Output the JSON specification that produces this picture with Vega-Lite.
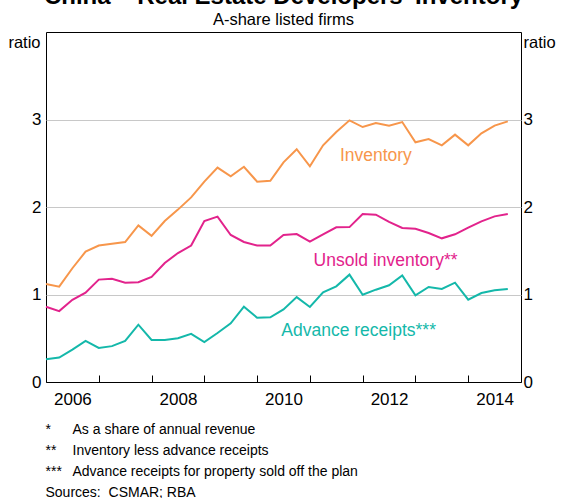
{
  "$schema": "https://vega.github.io/schema/vega-lite/v6.json",
  "width": 475,
  "height": 350,
  "autosize": {"type": "none"},
  "padding": {"left": 46, "top": 32, "right": 40, "bottom": 116},
  "background": "white",
  "config": {
    "font": "Liberation Sans",
    "view": {"stroke": "#000", "strokeWidth": 1}
  },
  "title": {
    "text": "China – Real Estate Developers' Inventory",
    "subtitle": "A-share listed firms",
    "fontSize": 24,
    "fontWeight": "bold",
    "color": "#000",
    "subtitleFontSize": 16.5,
    "subtitleColor": "#000",
    "subtitlePadding": 3,
    "anchor": "middle",
    "offset": 4
  },
  "datasets": {
    "series": [
      {"t": 2006.00, "inventory": 1.12, "unsold": 0.86, "advance": 0.26},
      {"t": 2006.25, "inventory": 1.09, "unsold": 0.81, "advance": 0.28},
      {"t": 2006.50, "inventory": 1.30, "unsold": 0.94, "advance": 0.37},
      {"t": 2006.75, "inventory": 1.49, "unsold": 1.02, "advance": 0.47},
      {"t": 2007.00, "inventory": 1.56, "unsold": 1.17, "advance": 0.39},
      {"t": 2007.25, "inventory": 1.58, "unsold": 1.18, "advance": 0.41},
      {"t": 2007.50, "inventory": 1.60, "unsold": 1.135, "advance": 0.47},
      {"t": 2007.75, "inventory": 1.79, "unsold": 1.14, "advance": 0.655},
      {"t": 2008.00, "inventory": 1.67, "unsold": 1.20, "advance": 0.48},
      {"t": 2008.25, "inventory": 1.84, "unsold": 1.36, "advance": 0.48},
      {"t": 2008.50, "inventory": 1.97, "unsold": 1.474, "advance": 0.50},
      {"t": 2008.75, "inventory": 2.11, "unsold": 1.56, "advance": 0.55},
      {"t": 2009.00, "inventory": 2.29, "unsold": 1.84, "advance": 0.457},
      {"t": 2009.25, "inventory": 2.45, "unsold": 1.89, "advance": 0.56},
      {"t": 2009.50, "inventory": 2.35, "unsold": 1.68, "advance": 0.67},
      {"t": 2009.75, "inventory": 2.46, "unsold": 1.60, "advance": 0.86},
      {"t": 2010.00, "inventory": 2.29, "unsold": 1.56, "advance": 0.735},
      {"t": 2010.25, "inventory": 2.30, "unsold": 1.56, "advance": 0.74},
      {"t": 2010.50, "inventory": 2.51, "unsold": 1.68, "advance": 0.83},
      {"t": 2010.75, "inventory": 2.66, "unsold": 1.69, "advance": 0.97},
      {"t": 2011.00, "inventory": 2.465, "unsold": 1.604, "advance": 0.857},
      {"t": 2011.25, "inventory": 2.705, "unsold": 1.688, "advance": 1.025},
      {"t": 2011.50, "inventory": 2.857, "unsold": 1.768, "advance": 1.093},
      {"t": 2011.75, "inventory": 2.99, "unsold": 1.77, "advance": 1.227},
      {"t": 2012.00, "inventory": 2.914, "unsold": 1.92, "advance": 0.998},
      {"t": 2012.25, "inventory": 2.96, "unsold": 1.912, "advance": 1.055},
      {"t": 2012.50, "inventory": 2.93, "unsold": 1.829, "advance": 1.105},
      {"t": 2012.75, "inventory": 2.971, "unsold": 1.76, "advance": 1.219},
      {"t": 2013.00, "inventory": 2.739, "unsold": 1.752, "advance": 0.99},
      {"t": 2013.25, "inventory": 2.777, "unsold": 1.703, "advance": 1.086},
      {"t": 2013.50, "inventory": 2.705, "unsold": 1.642, "advance": 1.063},
      {"t": 2013.75, "inventory": 2.827, "unsold": 1.688, "advance": 1.135},
      {"t": 2014.00, "inventory": 2.705, "unsold": 1.764, "advance": 0.941},
      {"t": 2014.25, "inventory": 2.842, "unsold": 1.836, "advance": 1.017},
      {"t": 2014.50, "inventory": 2.93, "unsold": 1.893, "advance": 1.048},
      {"t": 2014.75, "inventory": 2.979, "unsold": 1.92, "advance": 1.063}
    ],
    "labels": [
      {"t": 2012.25, "value": 2.53, "label": "Inventory", "key": "inventory"},
      {"t": 2012.434, "value": 1.321, "label": "Unsold inventory**", "key": "unsold"},
      {"t": 2011.923, "value": 0.529, "label": "Advance receipts***", "key": "advance"}
    ]
  },
  "layer": [
    {
      "data": {"name": "series"},
      "transform": [{"fold": ["inventory", "unsold", "advance"], "as": ["key", "value"]}],
      "mark": {"type": "line", "strokeWidth": 2},
      "encoding": {
        "x": {
          "field": "t", "type": "quantitative",
          "scale": {"domain": [2006, 2015], "nice": false, "zero": false},
          "axis": {
            "orient": "bottom",
            "values": [2006, 2007, 2008, 2009, 2010, 2011, 2012, 2013, 2014, 2015],
            "labels": false, "grid": false,
            "tickSize": -7, "tickColor": "#000", "domainColor": "#000",
            "title": ["*", "**", "***", "Sources:\u00a0 CSMAR; RBA"],
            "titleAnchor": "start", "titleAlign": "left", "titleBaseline": "alphabetic",
            "titleX": -1, "titleY": 51, "titleLineHeight": 21.3,
            "titleFontSize": 14, "titleFontWeight": "normal", "titleColor": "#000"
          }
        },
        "y": {
          "field": "value", "type": "quantitative",
          "scale": {"domain": [0, 4], "nice": false},
          "axis": {
            "orient": "left", "values": [0, 1, 2, 3],
            "grid": true, "gridColor": "#c8c8c8", "gridWidth": 1,
            "domain": false, "ticks": false, "tickSize": 0,
            "labelPadding": 5, "labelFontSize": 17, "labelColor": "#000",
            "title": "ratio", "titleAngle": 0, "titleAlign": "right", "titleBaseline": "alphabetic",
            "titleX": -6, "titleY": 15, "titleFontSize": 16.5, "titleFontWeight": "normal", "titleColor": "#000"
          }
        },
        "color": {
          "field": "key", "type": "nominal",
          "scale": {"domain": ["inventory", "unsold", "advance"], "range": ["#F7964B", "#E2238C", "#14B8AA"]},
          "legend": null
        }
      }
    },
    {
      "data": {"name": "labels"},
      "mark": {"type": "text", "fontSize": 17.5, "align": "center", "baseline": "alphabetic"},
      "encoding": {
        "x": {
          "field": "t", "type": "quantitative",
          "scale": {"domain": [2006, 2015], "nice": false, "zero": false},
          "axis": {
            "orient": "bottom",
            "values": [2006.5, 2008.5, 2010.5, 2012.5, 2014.5],
            "labelExpr": "'' + floor(datum.value)",
            "ticks": false, "tickSize": 0, "domain": false, "grid": false,
            "labelPadding": 9, "labelFontSize": 17, "labelColor": "#000",
            "title": ["As a share of annual revenue", "Inventory less advance receipts", "Advance receipts for property sold off the plan"],
            "titleAnchor": "start", "titleAlign": "left", "titleBaseline": "alphabetic",
            "titleX": 26, "titleY": 51, "titleLineHeight": 21.3,
            "titleFontSize": 14, "titleFontWeight": "normal", "titleColor": "#000"
          }
        },
        "y": {
          "field": "value", "type": "quantitative",
          "scale": {"domain": [0, 4], "nice": false},
          "axis": {
            "orient": "right", "values": [0, 1, 2, 3],
            "grid": false, "domain": false, "ticks": false, "tickSize": 0,
            "labelPadding": 2, "labelFontSize": 17, "labelColor": "#000",
            "title": "ratio", "titleAngle": 0, "titleAlign": "left", "titleBaseline": "alphabetic",
            "titleX": 2, "titleY": 15, "titleFontSize": 16.5, "titleFontWeight": "normal", "titleColor": "#000"
          }
        },
        "text": {"field": "label", "type": "nominal"},
        "color": {"field": "key", "type": "nominal", "legend": null}
      }
    }
  ],
  "resolve": {"axis": {"x": "independent", "y": "independent"}}
}
